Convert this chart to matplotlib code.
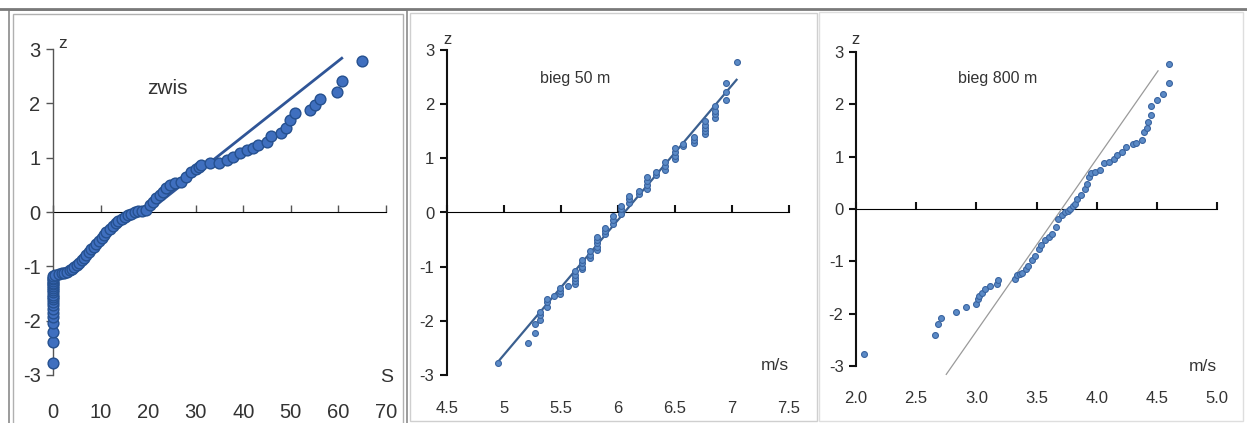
import matplotlib
matplotlib.use("Agg")
import matplotlib.pyplot as plt
from matplotlib.patches import Rectangle
from matplotlib.lines import Line2D

# ---------------- data ----------------
zwis_S = [0] * 22 + [0.5, 1.2, 1.8, 2.4, 2.9, 3.5, 4.0, 4.5, 5.0, 5.5, 6.0, 6.5, 7.0, 7.5,
                     8.0, 8.6, 9.1, 9.6, 10.2, 10.7, 11.2, 11.9, 12.6, 13.2, 13.7, 14.4, 15.1,
                     15.8, 16.5, 17.2, 17.9, 18.8, 19.6, 20.3, 21.0, 21.7, 22.4, 23.1, 23.8,
                     24.5, 25.6, 27.0, 28.0, 29.1, 30.1, 30.7, 31.2, 32.9, 35.0, 36.5, 37.9,
                     39.3, 40.7, 42.1, 43.1, 44.9, 45.9, 48.0, 49.0, 49.9, 50.8, 54.0, 55.0,
                     56.1, 59.8, 60.8, 64.9]
zwis_z = [-2.78, -2.40, -2.20, -2.05, -1.93, -1.85, -1.78, -1.72, -1.66, -1.61, -1.56,
          -1.52, -1.48, -1.44, -1.40, -1.37, -1.33, -1.30, -1.27, -1.24, -1.21, -1.18,
          -1.16, -1.14, -1.13, -1.12, -1.10, -1.07, -1.04, -1.01, -0.98, -0.93, -0.88,
          -0.84, -0.79, -0.74, -0.68, -0.64, -0.58, -0.53, -0.47, -0.43, -0.37, -0.31,
          -0.26, -0.21, -0.16, -0.12, -0.09, -0.05, -0.03, 0.00, 0.01, 0.02, 0.04, 0.12,
          0.19, 0.25, 0.31, 0.37, 0.44, 0.50, 0.53, 0.56, 0.65, 0.74, 0.79, 0.83, 0.87,
          0.90, 0.91, 0.96, 1.02, 1.08, 1.14, 1.17, 1.23, 1.29, 1.39, 1.45, 1.54, 1.69,
          1.82, 1.88, 1.97, 2.08, 2.21, 2.42, 2.78]
zwis_line_S = [20.0, 60.7]
zwis_line_z = [0.01, 2.83]

b50_v = [4.95, 5.21, 5.27, 5.27, 5.32, 5.32, 5.32, 5.38, 5.38, 5.38, 5.44, 5.49, 5.49, 5.49,
         5.56, 5.62, 5.62, 5.62, 5.62, 5.62, 5.68, 5.68, 5.68, 5.68, 5.75, 5.75, 5.75, 5.82,
         5.82, 5.82, 5.82, 5.82, 5.89, 5.89, 5.89, 5.96, 5.96, 5.96, 6.03, 6.03, 6.03, 6.10,
         6.10, 6.10, 6.18, 6.18, 6.25, 6.25, 6.25, 6.25, 6.33, 6.33, 6.41, 6.41, 6.41, 6.50,
         6.50, 6.50, 6.50, 6.57, 6.57, 6.67, 6.67, 6.67, 6.76, 6.76, 6.76, 6.76, 6.76, 6.85,
         6.85, 6.85, 6.85, 6.95, 6.95, 6.95, 7.04]
b50_z = [-2.78, -2.41, -2.22, -2.06, -1.98, -1.90, -1.83, -1.74, -1.66, -1.59, -1.55, -1.50,
         -1.45, -1.40, -1.36, -1.32, -1.27, -1.21, -1.15, -1.08, -1.05, -1.00, -0.94, -0.88,
         -0.84, -0.78, -0.72, -0.69, -0.63, -0.57, -0.51, -0.45, -0.40, -0.34, -0.28, -0.22,
         -0.14, -0.07, -0.02, 0.06, 0.12, 0.17, 0.24, 0.31, 0.35, 0.40, 0.44, 0.51, 0.58,
         0.65, 0.69, 0.74, 0.79, 0.86, 0.93, 0.98, 1.05, 1.12, 1.19, 1.22, 1.26, 1.29, 1.34,
         1.40, 1.44, 1.50, 1.56, 1.62, 1.68, 1.74, 1.81, 1.88, 1.96, 2.08, 2.22, 2.39, 2.77]
b50_line_v = [4.95, 7.04]
b50_line_z = [-2.75, 2.45]

b800_v = [2.07, 2.66, 2.68, 2.71, 2.83, 2.91, 3.00, 3.01, 3.02, 3.05, 3.07, 3.11, 3.17, 3.18,
          3.32, 3.34, 3.36, 3.38, 3.41, 3.43, 3.46, 3.49, 3.52, 3.54, 3.57, 3.60, 3.63, 3.66,
          3.68, 3.71, 3.74, 3.76, 3.78, 3.80, 3.82, 3.84, 3.87, 3.90, 3.92, 3.94, 3.95, 3.99,
          4.03, 4.06, 4.10, 4.14, 4.17, 4.21, 4.24, 4.30, 4.33, 4.38, 4.39, 4.42, 4.43, 4.45,
          4.45, 4.50, 4.55, 4.60, 4.60]
b800_z = [-2.78, -2.40, -2.20, -2.08, -1.97, -1.87, -1.82, -1.72, -1.66, -1.61, -1.53, -1.48,
          -1.43, -1.35, -1.33, -1.27, -1.25, -1.22, -1.14, -1.08, -0.98, -0.89, -0.76, -0.69,
          -0.59, -0.54, -0.47, -0.34, -0.20, -0.12, -0.06, -0.03, 0.00, 0.05, 0.09, 0.20,
          0.26, 0.39, 0.48, 0.61, 0.69, 0.71, 0.74, 0.87, 0.90, 0.96, 1.04, 1.09, 1.18, 1.24,
          1.26, 1.31, 1.47, 1.54, 1.66, 1.79, 1.96, 2.09, 2.20, 2.41, 2.77]
b800_line_v = [2.75, 4.51]
b800_line_z = [-3.16, 2.64]

zwis_xticks = [0, 10, 20, 30, 40, 50, 60, 70]
zwis_xlabels = ["0", "10", "20", "30", "40", "50", "60", "70"]
b50_xticks = [4.5, 5.0, 5.5, 6.0, 6.5, 7.0, 7.5]
b50_xlabels = ["4.5", "5", "5.5", "6", "6.5", "7", "7.5"]
b800_xticks = [2.0, 2.5, 3.0, 3.5, 4.0, 4.5, 5.0]
b800_xlabels = ["2.0", "2.5", "3.0", "3.5", "4.0", "4.5", "5.0"]
z_ticks = [-3, -2, -1, 0, 1, 2, 3]
z_labels = ["-3", "-2", "-1", "0", "1", "2", "3"]

# ---------------- figure ----------------
W, H = 1247, 423
fig = plt.figure(figsize=(W / 100, H / 100), dpi=100)
fig.patch.set_facecolor("white")
FONT = ["Liberation Sans Narrow", "Liberation Sans", "DejaVu Sans"]


def px_axes(x0, y_top, x1, y_bot):
    return fig.add_axes([x0 / W, 1 - y_bot / H, (x1 - x0) / W, (y_bot - y_top) / H])


def ftext(x, y, s, size, color="#333333", ha="center", va="center"):
    fig.text(x / W, 1 - y / H, s, fontsize=size, color=color, ha=ha, va=va, family=FONT)


def frame(x0, y0, x1, y1, color, lw=1.0):
    fig.add_artist(Rectangle((x0 / W, 1 - y1 / H), (x1 - x0) / W, (y1 - y0) / H,
                             transform=fig.transFigure, fill=False, edgecolor=color, lw=lw))


# frames
fig.add_artist(Line2D([0, 1], [1 - 9 / H, 1 - 9 / H], transform=fig.transFigure,
                      color="#7a7a7a", lw=2))
frame(9, 10, 407, 440, "#8a8a8a", 1.2)
frame(13, 14, 403, 440, "#b0b0b0", 1.0)
frame(410, 13, 817, 421, "#cfcfcf", 1.0)
frame(819, 12, 1243, 421, "#dedede", 1.0)


def style_axes(ax, xlim, xticks, xlabels, spine_color, lw, tick_size, label_pad, label_color):
    ax.set_xlim(*xlim)
    ax.set_ylim(-3, 3)
    ax.set_facecolor("none")
    for s in ["top", "right", "bottom"]:
        ax.spines[s].set_visible(False)
    ax.spines["left"].set_color(spine_color)
    ax.spines["left"].set_linewidth(lw)
    ax.set_yticks(z_ticks)
    ax.set_yticklabels(z_labels, family=FONT, fontsize=tick_size, color=label_color)
    ax.tick_params(axis="y", direction="out", length=5, width=lw, color=spine_color, pad=4)
    ax.set_xticks(xticks)
    ax.set_xticklabels(xlabels, family=FONT, fontsize=tick_size, color=label_color)
    ax.tick_params(axis="x", length=0, pad=label_pad)
    sec = ax.secondary_xaxis(0.5)
    sec.set_xticks(xticks)
    sec.set_xticklabels([])
    sec.spines["bottom"].set_color(spine_color)
    sec.spines["bottom"].set_linewidth(lw)
    sec.tick_params(axis="x", direction="out", length=5, width=lw, color=spine_color)


# ---- panel 1: zwis ----
ax1 = px_axes(53, 49, 386, 375)
style_axes(ax1, (0, 70), zwis_xticks, zwis_xlabels, "#555555", 1.0, 14.5, 20, "#333333")
ax1.plot(zwis_line_S, zwis_line_z, color="#2f5597", lw=2.0, zorder=2)
ax1.scatter(zwis_S, zwis_z, s=60, facecolor="#3f6fbf", edgecolor="#25508f", lw=1.0,
            zorder=3, clip_on=False)
ftext(167, 88, "zwis", 15)
ftext(63, 44, "z", 12.5)
ftext(387, 377, "S", 14)

# ---- panel 2: bieg 50 m ----
ax2 = px_axes(447, 50, 789, 375)
style_axes(ax2, (4.5, 7.5), b50_xticks, b50_xlabels, "#111111", 1.5, 12, 19, "#333333")
ax2.plot(b50_line_v, b50_line_z, color="#3a5f8f", lw=1.6, zorder=2)
ax2.scatter(b50_v, b50_z, s=18, facecolor="#5b8ac6", edgecolor="#3a64a0", lw=0.8,
            zorder=3, clip_on=False)
ftext(575, 78, "bieg 50 m", 11.5)
ftext(447, 40, "z", 12)
ftext(775, 365, "m/s", 12.5)

# ---- panel 3: bieg 800 m ----
ax3 = px_axes(856, 52, 1217, 366)
style_axes(ax3, (2.0, 5.0), b800_xticks, b800_xlabels, "#111111", 1.5, 12, 18, "#333333")
ax3.plot(b800_line_v, b800_line_z, color="#9a9a9a", lw=0.9, zorder=2, clip_on=False)
ax3.scatter(b800_v, b800_z, s=18, facecolor="#5b8ac6", edgecolor="#3a64a0", lw=0.8,
            zorder=3, clip_on=False)
ftext(998, 78, "bieg 800 m", 11.5)
ftext(856, 39, "z", 12)
ftext(1203, 366, "m/s", 12.5)

fig.savefig("out.png", dpi=100, facecolor="white")
